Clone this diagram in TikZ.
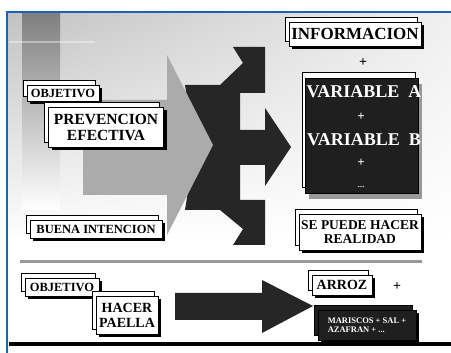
\documentclass[tikz,border=0pt]{standalone}
\usepackage{fontspec}
\setmainfont{Liberation Serif}
\usetikzlibrary{positioning, shadows, shadings}
\definecolor{frameblue}{RGB}{25,100,180}
\tikzset{
    tab/.style={
        draw, fill=white, line width=0.9pt,
        align=center, inner sep=1pt,
        copy shadow={shadow xshift=-4pt, shadow yshift=5pt},
        drop shadow={shadow xshift=3pt, shadow yshift=-3pt, fill=black, opacity=1}
    },
    darkbox/.style={
        draw, fill=black!88, line width=0.9pt,
        copy shadow={shadow xshift=-3pt, shadow yshift=6pt, fill=white},
        drop shadow={shadow xshift=4pt, shadow yshift=-6pt, fill=black!40, opacity=1}
    },
    plus/.style = {font=\bfseries\fontsize{14}{14}\selectfont, inner sep=0pt},
    vartext/.style = {text=white, inner sep=0pt, font=\bfseries\fontsize{18}{18}\selectfont}
}

\begin{document}
\begin{tikzpicture}[x=1pt, y=-1pt]
    \useasboundingbox (0,0) rectangle (451,353);

    % fondo
    \fill[white] (0,0) rectangle (451,353);
    \shade[upper left=black!24, upper right=black!6, lower left=white, lower right=white] (8,13) rectangle (451,240);
    \shade[top color=black!50, middle color=black!42, bottom color=white] (22,13) rectangle (60,210);
    \draw[white, line width=1.5pt, opacity=0.4] (9,42) -- (95,42);

    % flechas
    \fill[black!85] (185,85) -- (220,85) -- (243,63) -- (233,47) -- (265,47) -- (265,93)
        -- (240,93) -- (240,130) -- (265,130) -- (265,108) -- (291,147) -- (265,186)
        -- (265,165) -- (240,165) -- (240,200) -- (265,200) -- (265,245) -- (233,245)
        -- (243,229) -- (220,210) -- (185,210) -- (195,147) -- cycle;
    \fill[black!33] (83,100) -- (167,100) -- (167,55) -- (213,145) -- (167,235)
        -- (167,195) -- (83,195) -- cycle;
    \fill[black!85] (175,293) -- (262,293) -- (262,280) -- (313,306) -- (262,333)
        -- (262,320) -- (175,320) -- cycle;
    \draw[black!40, line width=3pt] (20,262) -- (422,262);

    % arriba
    \node[tab, minimum width=72, minimum height=16, font=\bfseries\fontsize{12.5}{13}\selectfont] (obj1) at (63,93) {OBJETIVO};
    \node[tab, minimum width=115, minimum height=40, font=\bfseries\fontsize{15.5}{16}\selectfont] (prev) at (106,127) {PREVENCION\\EFECTIVA};
    \node[tab, minimum width=132, minimum height=18, font=\bfseries\fontsize{12.5}{13}\selectfont] (buena) at (96,229) {BUENA INTENCION};

    \node[tab, minimum width=132, minimum height=24, font=\bfseries\fontsize{17}{18}\selectfont] (info) at (355,34) {INFORMACION};
    \node[plus] (plusa) at (363,63) {+};
    \node[darkbox, minimum width=113, minimum height=115] (vars) at (361.5,135.5) {};
    \node[vartext] (vara) at (364,92) {VARIABLE\hspace{0.5em}A};
    \node[vartext, font=\bfseries\fontsize{13}{13}\selectfont] (mas1) at (361,117) {+};
    \node[vartext] (varb) at (364,140) {VARIABLE\hspace{0.5em}B};
    \node[vartext, font=\bfseries\fontsize{13}{13}\selectfont] (mas2) at (361,163) {+};
    \node[vartext, font=\bfseries\fontsize{7}{7}\selectfont] (puntos) at (361,187) {....};
    \node[tab, minimum width=122, minimum height=36, font=\bfseries\fontsize{13.5}{14.5}\selectfont] (real) at (360,232) {SE PUEDE HACER\\REALIDAD};

    % abajo
    \node[tab, minimum width=74, minimum height=18, font=\bfseries\fontsize{12.5}{13}\selectfont] (obj2) at (62,287) {OBJETIVO};
    \node[tab, minimum width=62, minimum height=38, font=\bfseries\fontsize{14}{15}\selectfont] (hacer) at (127,315) {HACER\\PAELLA};
    \node[tab, minimum width=60, minimum height=20, font=\bfseries\fontsize{14}{15}\selectfont] (arroz) at (342,285) {ARROZ};
    \node[plus] (plusb) at (397,287) {+};
    \node[tab, fill=black!88, text=white, minimum width=98, minimum height=30, align=left,
          font=\bfseries\fontsize{8.5}{9.5}\selectfont] (mezcla) at (367,325) {MARISCOS + SAL +\\AZAFRAN + ...};

    % marco
    \draw[frameblue, line width=2pt] (7,353) -- (7,12) -- (451,12);
    \draw[black, line width=4pt] (9,344) -- (451,344);
\end{tikzpicture}
\end{document}
